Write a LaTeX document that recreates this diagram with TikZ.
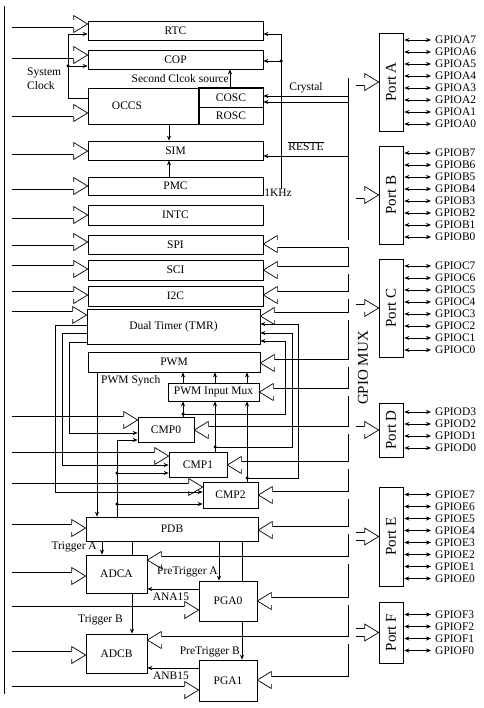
\documentclass[tikz,border=0pt]{standalone}
\usepackage{fontspec}
\setmainfont{Liberation Serif}
\usepackage{graphicx}
\usetikzlibrary{arrows.meta,calc}

\begin{document}
\begin{tikzpicture}[x=1pt,y=-1pt,>={Stealth[length=5pt,width=4pt]}]
  \tikzstyle{blk}=[draw,fill=white,inner sep=0pt,line width=0.7pt,font=\fontsize{11.5}{14}\selectfont]
  \tikzstyle{wideblk}=[blk,minimum width=175pt]
  \tikzstyle{port}=[blk,minimum width=24pt,font=\fontsize{15}{17}\selectfont]
  \tikzstyle{lab}=[inner sep=0pt,font=\fontsize{11.5}{14}\selectfont]
  \tikzstyle{sig}=[line width=0.7pt]
  \tikzstyle{dot}=[circle,fill,inner sep=0pt,minimum size=3.5pt]
  \tikzset{whead/.pic={\draw[line width=0.7pt,fill=white] (-14,-4) -- (-14,-8.5) -- (0,0) -- (-14,8.5) -- (-14,4);}}
  \def\rot#1{\rotatebox{90}{#1}}

  \useasboundingbox (0,0) rectangle (483,708);

  \node[wideblk,minimum height=19pt] (rtc) at (175.5,30.5) {RTC};
  \node[wideblk,minimum height=19pt] (cop) at (175.5,59.5) {COP};
  \node[wideblk,minimum height=36pt] (occs) at (175.5,106) {};
  \node[lab] (occslab) at (127,106) {OCCS};
  \node[blk,minimum width=64pt,minimum height=19pt] (cosc) at (231,97.5) {COSC};
  \node[blk,minimum width=64pt,minimum height=17pt] (rosc) at (231,115.5) {ROSC};
  \draw[line width=1.3pt] (cosc.north west) rectangle (rosc.south east);
  \node[wideblk,minimum height=19pt] (sim) at (175.5,150.5) {SIM};
  \node[wideblk,minimum height=18pt] (pmc) at (175.5,186) {PMC};
  \node[wideblk,minimum height=20pt] (intc) at (175.5,215) {INTC};
  \node[wideblk,minimum height=19pt] (spi) at (175.5,244.5) {SPI};
  \node[wideblk,minimum height=20pt] (sci) at (175.5,270) {SCI};
  \node[wideblk,minimum height=20pt] (itwoc) at (175.5,296) {I2C};
  \node[blk,minimum width=173pt,minimum height=35pt] (tmr) at (173.5,326.5) {Dual Timer (TMR)};
  \node[blk,minimum width=172pt,minimum height=20pt] (pwm) at (174,362) {PWM};
  \node[blk,minimum width=91pt,minimum height=18pt] (pwmmux) at (213.5,392) {PWM Input Mux};
  \node[blk,minimum width=56pt,minimum height=25pt] (cmp0) at (166,429.5) {CMP0};
  \node[blk,minimum width=58pt,minimum height=25pt] (cmp1) at (198,464.5) {CMP1};
  \node[blk,minimum width=55pt,minimum height=26pt] (cmp2) at (230.5,495) {CMP2};
  \node[blk,minimum width=172pt,minimum height=24pt] (pdb) at (172,529) {PDB};
  \node[blk,minimum width=61pt,minimum height=38pt] (adca) at (116.5,574) {ADCA};
  \node[blk,minimum width=58pt,minimum height=40pt] (pga0) at (228,601) {PGA0};
  \node[blk,minimum width=61pt,minimum height=39pt] (adcb) at (116.5,653.5) {ADCB};
  \node[blk,minimum width=58pt,minimum height=41pt] (pga1) at (228,680.5) {PGA1};

  % ports and pins
  \node[port,minimum height=98pt] (porta) at (391,82) {\rot{Port A}};
  \node[port,minimum height=98pt] (portb) at (391,195) {\rot{Port B}};
  \node[port,minimum height=98pt] (portc) at (391,308) {\rot{Port C}};
  \node[port,minimum height=54pt] (portd) at (391,430) {\rot{Port D}};
  \node[port,minimum height=99pt] (porte) at (391,536.5) {\rot{Port E}};
  \node[port,minimum height=61pt] (portf) at (391,632.5) {\rot{Port F}};
  \foreach \p/\l/\c/\n in {porta/A/82/7,portb/B/195/7,portc/C/308/7,portd/D/430/3,porte/E/536.5/7,portf/F/632.5/3}
    \foreach \k in {0,...,\n} {
      \node[lab,anchor=west] (gpio\l\k) at (435,{\c+(\n/2-\k)*12}) {GPIO\l\k};
      \draw[sig,<->,shorten <=1pt,shorten >=4pt] (\p.east |- gpio\l\k.west) -- (gpio\l\k.west);
    }
  \node[font=\fontsize{15}{17}\selectfont,inner sep=0pt] (gpiomux) at (363,368) {\rot{GPIO MUX}};

  % the two buses: black band first, white inside after
  \foreach \col/\w in {black/8.4pt,white/7pt} {
    \draw[\col,line width=\w,line cap=rect] (8,10) -- (8,690) -- ($(pga1.west |- 0,690)+(-14,0)$);
    \foreach \n/\y in {rtc/24,cop/55,occs/113,sim/151,pmc/186,intc/215,spi/242,sci/269,itwoc/295,tmr/315,cmp0/420,cmp1/456,cmp2/487,pdb/528,adca/576,pga0/610,adcb/655}
      \draw[\col,line width=\w] (8,\y) -- ($(\n.west |- 0,\y)+(-14,0)$);
    \draw[\col,line width=\w,line cap=rect] ($(pga1.east |- 0,680)+(14,0)$) -| (352,82) -- ($(porta.west)+(-14,0)$);
    \foreach \n/\y in {spi/244,sci/270,itwoc/295,tmr/316,pwm/363,pwmmux/392,cmp0/430,cmp1/465,cmp2/495,pdb/530,adca/560,pga0/601,adcb/640}
      \draw[\col,line width=\w] (352,\y) -- ($(\n.east |- 0,\y)+(14,0)$);
    \foreach \n in {portb,portc,portd,porte,portf}
      \draw[\col,line width=\w] (352,0 |- \n.west) -- ($(\n.west)+(-14,0)$);
  }
  \foreach \n/\y in {rtc/24,cop/55,occs/113,sim/151,pmc/186,intc/215,spi/242,sci/269,itwoc/295,tmr/315,cmp0/420,cmp1/456,cmp2/487,pdb/528,adca/576,pga0/610,adcb/655,pga1/690}
    \pic at (\n.west |- 0,\y) {whead};
  \foreach \n/\y in {spi/244,sci/270,itwoc/295,tmr/316,pwm/363,pwmmux/392,cmp0/430,cmp1/465,cmp2/495,pdb/530,adca/560,pga0/601,adcb/640,pga1/680}
    \pic[rotate=180] at (\n.east |- 0,\y) {whead};
  \foreach \n in {porta,portb,portc,portd,porte,portf}
    \pic at (\n.west) {whead};

  % clocks and reset
  \coordinate (sysclk) at (68,98);
  \coordinate (rbus) at (348,0);
  \draw[sig,->] (occs.west |- sysclk) -- (sysclk) |- (rtc.west |- 0,34);
  \draw[sig,->] (68,66) -- (cop.west |- 0,66);
  \node[dot] (dclk) at (68,66) {};
  \node[lab,align=left,anchor=north west] (sysclklab) at (27,68) {System\\Clock};
  \draw[sig,->] (cosc.north -| 230,0) -- (cop.south -| 230,0);
  \node[lab,anchor=east] (seclab) at (229,79) {Second Clcok source};
  \draw[sig,->] (occs.south -| 169,0) -- (sim.north -| 169,0);
  \draw[sig,->] (pmc.north -| 169,0) -- (sim.south -| 169,0);
  \node[lab] (khz) at (278,193) {1KHz};
  \draw[sig,->] (khz.north -| 281,0) -- (281,34) -- (rtc.east |- 0,34);
  \draw[sig,->] (281,61) -- (cop.east |- 0,61);
  \node[dot] (dkhz) at (281,61) {};
  \draw[sig,->] (rbus |- 0,96) -- (cosc.east |- 0,96);
  \draw[sig,->] (rbus |- 0,102) -- (cosc.east |- 0,102);
  \node[lab] (xtal) at (306,88) {Crystal};
  \draw[sig,->] (rbus |- 0,156) -- (sim.east |- 0,156);
  \node[lab] (reste) at (306,146) {$\overline{\mbox{RESTE}}$};

  % timer, pwm and comparators
  \draw[sig,->] (tmr.west |- 0,325) -| (55,492) -- (cmp2.west |- 0,492);
  \draw[sig,->] (tmr.west |- 0,333) -| (62,465) -- (cmp1.west |- 0,465);
  \draw[sig,->] (tmr.west |- 0,342) -| (69,433) -- (cmp0.west |- 0,433);
  \draw[sig,->] (pdb.north -| 117,0) |- (cmp0.west |- 0,440);
  \draw[sig,->] (117,473) -- (cmp1.west |- 0,473);
  \draw[sig,->] (117,504) -- (cmp2.west |- 0,504);
  \node[dot] (dpdb1) at (117,473) {};
  \node[dot] (dpdb2) at (117,504) {};
  \draw[sig,->] (pwm.south -| 97,0) -- (pdb.north -| 97,0);
  \node[lab,anchor=west] (synch) at (101,381) {PWM Synch};
  \foreach \x in {183,215,247}
    \draw[sig,->] (pwmmux.north -| \x,0) -- (pwm.south -| \x,0);
  \draw[sig,->] (cmp0.north -| 183,0) -- (pwmmux.south -| 183,0);
  \draw[sig,->] (183,414) -| (285,341) -- (tmr.east |- 0,341);
  \draw[sig,->] (cmp1.north -| 215,0) -- (pwmmux.south -| 215,0);
  \draw[sig,->] (215,447) -| (292,333) -- (tmr.east |- 0,333);
  \draw[sig,->] (cmp2.north -| 247,0) -- (pwmmux.south -| 247,0);
  \draw[sig,->] (247,478) -| (298,324) -- (tmr.east |- 0,324);
  \node[dot] (dcmp0) at (183,414) {};
  \node[dot] (dcmp1) at (215,447) {};
  \node[dot] (dcmp2) at (247,478) {};

  % triggers
  \draw[sig,->] (pdb.south -| 102,0) -- (adca.north -| 102,0);
  \node[lab,anchor=east] (trga) at (97,547) {Trigger A};
  \draw[sig] (pdb.south -| 132,0) -- (adca.north -| 132,0);
  \draw[sig,->] (adca.south -| 132,0) -- (adcb.north -| 132,0);
  \node[lab,anchor=east] (trgb) at (123,620) {Trigger B};
  \draw[sig,->] (pdb.south -| 219,0) -- (pga0.north -| 219,0);
  \node[lab,anchor=east] (ptrga) at (218,572) {PreTrigger A};
  \draw[sig] (pdb.south -| 242,0) -- (pga0.north -| 242,0);
  \draw[sig,->] (pga0.south -| 242,0) -- (pga1.north -| 242,0);
  \node[lab,anchor=east] (ptrgb) at (240,652) {PreTrigger B};
  \draw[sig,->] (pga0.west |- 0,589) -- (adca.east |- 0,589);
  \node[lab] (ana) at (171,597) {ANA15};
  \draw[sig,->] (pga1.west |- 0,668) -- (adcb.east |- 0,668);
  \node[lab] (anb) at (171,676) {ANB15};
\end{tikzpicture}
\end{document}
